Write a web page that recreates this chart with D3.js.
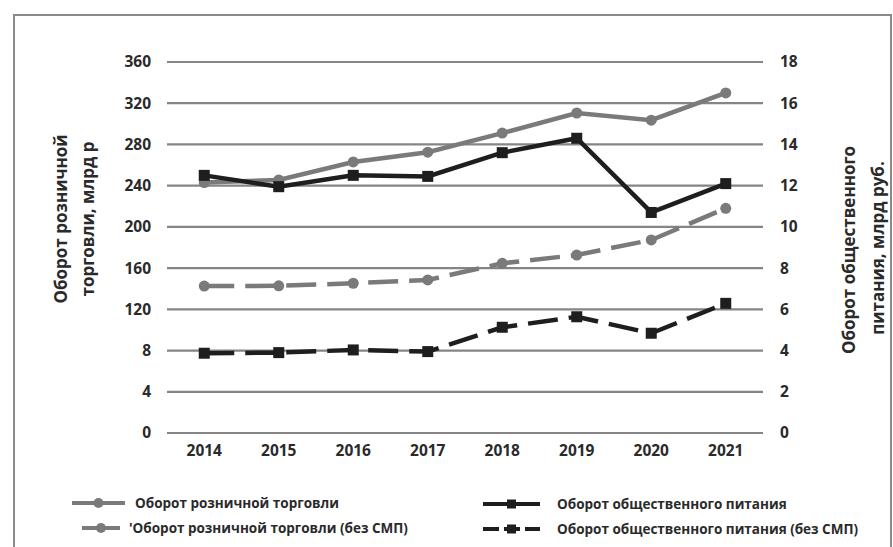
<!DOCTYPE html>
<html><head><meta charset="utf-8">
<script src="https://cdn.jsdelivr.net/npm/d3@7"></script>
<style>
body{margin:0;background:#fff;}
text{font-family:"Open Sans",Lato,sans-serif;font-weight:700;fill:#2a2a2a;}
</style></head>
<body><svg id="c" width="893" height="547"></svg>
<script>
const years = ["2014","2015","2016","2017","2018","2019","2020","2021"];
const leftTicks = [0,40,80,120,160,200,240,280,320,360];
const leftTickLabels = ["0","4","8","120","160","200","240","280","320","360"];
const rightTicks = [0,2,4,6,8,10,12,14,16,18];
const retail = [243,245.5,263,272.5,291,310.5,303.5,330];
const catering = [12.5,11.95,12.5,12.45,13.6,14.3,10.7,12.1];
const retailNoSMP = [142.6,142.8,145.3,148.5,164.7,172.7,187.3,218];
const cateringNoSMP = [3.87,3.9,4.03,3.95,5.13,5.64,4.84,6.29];
const legendLabels = ["Оборот розничной торговли","'Оборот розничной торговли (без СМП)","Оборот общественного питания","Оборот общественного питания (без СМП)"];

const svg = d3.select("#c");
const L=167,R=763,T=62,B=433;
const x = d3.scaleBand().domain(years).range([L,R]);
const yL = d3.scaleLinear().domain([0,360]).range([B,T]);
const yR = d3.scaleLinear().domain([0,18]).range([B,T]);

// border
svg.append("rect").attr("x",14).attr("y",15).attr("width",877).attr("height",560)
  .attr("fill","none").attr("stroke","#8a8a8a").attr("stroke-width",2);

// gridlines
svg.append("g").selectAll("line").data(leftTicks).join("line")
  .attr("x1",L).attr("x2",R).attr("y1",d=>yL(d)).attr("y2",d=>yL(d))
  .attr("stroke","#858585").attr("stroke-width",2.2);

const tickStyle = sel => sel.selectAll("text").style("font-size","15.5px").style("font-family","'Open Sans'").style("font-weight","700").attr("fill","#2a2a2a");

const axL = d3.axisLeft(yL).tickValues(leftTicks).tickFormat((d,i)=>leftTickLabels[i]).tickSize(0).tickPadding(16);
const gL = svg.append("g").attr("transform",`translate(${L},0)`).call(axL);
gL.select(".domain").remove(); tickStyle(gL);

const axR = d3.axisRight(yR).tickValues(rightTicks).tickSize(0).tickPadding(17);
const gR = svg.append("g").attr("transform",`translate(${R},0)`).call(axR);
gR.select(".domain").remove(); tickStyle(gR);

const axB = d3.axisBottom(x).tickSize(0).tickPadding(12);
const gB = svg.append("g").attr("transform",`translate(0,${B})`).call(axB);
gB.select(".domain").remove(); tickStyle(gB);

const cx = d=>x(d)+x.bandwidth()/2;
const GRAY="#7a7a7a", BLACK="#1e1e1e";
const series = [
  {vals:retail, y:yL, color:GRAY, dash:null, mark:"circle"},
  {vals:catering, y:yR, color:BLACK, dash:null, mark:"square"},
  {vals:retailNoSMP, y:yL, color:GRAY, dash:"30,11", mark:"circle"},
  {vals:cateringNoSMP, y:yR, color:BLACK, dash:"30,11", mark:"square"}
];
series.forEach(s=>{
  const line = d3.line().x((d,i)=>cx(years[i])).y(d=>s.y(d));
  svg.append("path").datum(s.vals).attr("d",line).attr("fill","none")
    .attr("stroke",s.color).attr("stroke-width",4.5).attr("stroke-dasharray",s.dash);
  const g = svg.append("g");
  if(s.mark==="circle"){
    g.selectAll("circle").data(s.vals).join("circle")
      .attr("cx",(d,i)=>cx(years[i])).attr("cy",d=>s.y(d)).attr("r",5.5).attr("fill",s.color);
  } else {
    g.selectAll("rect").data(s.vals).join("rect")
      .attr("x",(d,i)=>cx(years[i])-5.5).attr("y",d=>s.y(d)-5.5).attr("width",11).attr("height",11).attr("fill",s.color);
  }
});

// axis titles
const tt = (tx,ty,t)=>svg.append("text").attr("transform",`translate(${tx},${ty}) rotate(-90)`).attr("text-anchor","middle")
  .style("font-size","17px").text(t);
tt(67,219,"Оборот розничной");
tt(94,219,"торговли, млрд р");
tt(855,250,"Оборот общественного");
tt(884,248,"питания, млрд руб.");

// legend
const leg = [
  {x1:72,x2:125,y:503,tx:135,color:GRAY,mark:"circle",dash:null},
  {x1:82,x2:120,y:528,tx:129,color:GRAY,mark:"circle",dash:null},
  {x1:483,x2:540,y:504,tx:557,color:BLACK,mark:"square",dash:null},
  {x1:483,x2:540,y:529,tx:557,color:BLACK,mark:"square",dash:"16,5"}
];
leg.forEach((l,i)=>{
  svg.append("line").attr("x1",l.x1).attr("x2",l.x2).attr("y1",l.y).attr("y2",l.y)
    .attr("stroke",l.color).attr("stroke-width",4).attr("stroke-dasharray",l.dash);
  const m=(l.x1+l.x2)/2;
  if(l.mark==="circle") svg.append("circle").attr("cx",m).attr("cy",l.y).attr("r",5).attr("fill",l.color);
  else svg.append("rect").attr("x",m-4.5).attr("y",l.y-4.5).attr("width",9).attr("height",9).attr("fill",l.color);
  svg.append("text").attr("x",l.tx).attr("y",l.y+5).style("font-size","13.5px").text(legendLabels[i]);
});
</script></body></html>
